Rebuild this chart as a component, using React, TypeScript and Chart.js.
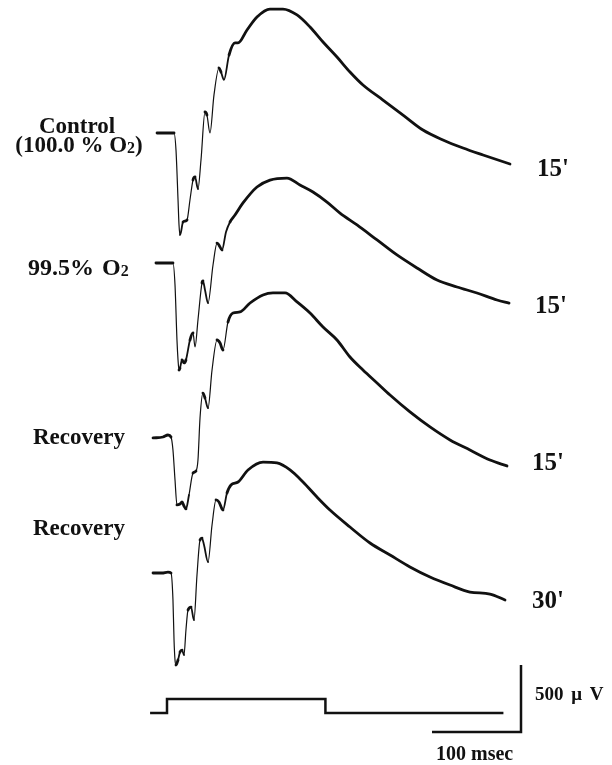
import React, { useEffect, useRef } from "react";
import { Chart, registerables } from "chart.js";

Chart.register(...registerables);

// ---- Data: time in ms from stimulus onset, amplitude in µV relative to each trace's baseline ----
const controlTime = [-11.2, 7.9, 10.1, 12.4, 13.5, 14.6, 15.7, 18.0, 20.2, 22.5, 25.8, 29.2, 31.5, 34.8, 38.2, 42.7, 44.9, 48.3, 52.8, 58.4, 60.7, 64.0, 69.7, 76.4, 79.8, 89.9, 101.1, 115.7, 130.3, 146.1, 160.7, 175.3, 191.0, 205.6, 220.2, 242.7, 265.2, 287.6, 310.1, 332.6, 355.1, 385.4];
const controlAmp = [0, 0, -127, -500, -687, -761, -739, -664, -657, -649, -500, -351, -328, -418, -201, 157, 134, 0, 284, 485, 455, 396, 582, 672, 672, 769, 866, 925, 925, 881, 791, 679, 567, 455, 358, 246, 134, 22, -52, -112, -164, -231];

const hypoxiaTime = [-12.4, 6.7, 9.0, 11.2, 12.4, 13.5, 14.6, 16.9, 19.1, 21.3, 25.8, 29.2, 31.5, 34.8, 39.3, 40.4, 42.7, 46.1, 51.7, 56.2, 58.4, 61.8, 66.3, 70.8, 76.4, 85.4, 101.1, 115.7, 134.8, 149.4, 164.0, 179.8, 194.4, 213.5, 236.0, 258.4, 280.9, 303.4, 325.8, 348.3, 370.8, 384.3];
const hypoxiaAmp = [0, 0, -164, -575, -724, -799, -784, -724, -746, -724, -575, -522, -627, -425, -149, -134, -201, -299, -15, 149, 134, 97, 231, 306, 358, 448, 567, 619, 634, 582, 530, 455, 373, 284, 172, 60, -37, -127, -179, -224, -276, -299];

const recovery15Time = [-15.7, -4.5, 1.1, 4.5, 6.7, 9.0, 11.2, 14.6, 16.9, 19.1, 21.3, 24.7, 29.2, 32.6, 34.8, 37.1, 40.4, 42.7, 46.1, 50.6, 56.2, 59.6, 62.9, 68.5, 74.2, 82.0, 93.3, 107.9, 119.1, 132.6, 146.1, 160.7, 175.3, 191.0, 205.6, 220.2, 236.0, 250.6, 273.0, 295.5, 318.0, 340.4, 362.9, 382.0];
const recovery15Amp = [-7, 0, 15, 0, -97, -321, -507, -500, -485, -515, -537, -433, -269, -254, -172, 142, 328, 291, 216, 500, 724, 701, 649, 858, 925, 933, 1000, 1060, 1075, 1075, 1008, 925, 821, 724, 597, 500, 403, 313, 187, 75, -22, -97, -172, -216];

const recovery30Time = [-15.7, -5.6, 1.1, 4.5, 6.7, 7.9, 9.0, 10.1, 12.4, 14.6, 16.9, 19.1, 21.3, 23.6, 27.0, 30.3, 33.7, 37.1, 39.3, 41.6, 46.1, 50.6, 55.1, 58.4, 62.9, 67.4, 71.9, 79.8, 91.0, 107.9, 123.6, 138.2, 152.8, 168.5, 183.1, 205.6, 228.1, 250.6, 273.0, 295.5, 318.0, 340.4, 362.9, 379.8];
const recovery30Amp = [0, 0, 7, 0, -201, -500, -649, -687, -649, -590, -575, -612, -425, -276, -254, -351, -15, 246, 261, 209, 82, 358, 545, 530, 470, 597, 657, 679, 769, 828, 821, 769, 679, 567, 470, 343, 224, 134, 45, -30, -90, -142, -157, -201];

// stimulus marker (0 = off, 1 = on)
const stimTime = [-19, 0, 0, 178, 178, 378];
const stimLevel = [0, 0, 1, 1, 0, 0];

// calibration bars
const scaleBarMs = 100;
const scaleBarUv = 500;

const leftLabels = ["Control", "(100.0 % O2)", "99.5% O2", "Recovery", "Recovery"];
const rightLabels = ["15'", "15'", "15'", "30'"];
const scaleLabels = ["500 \u03BC V", "100 msec"];

// ---- Layout (pixels) ----
const W = 612;
const H = 765;
const PX_PER_MS = 0.89;
const PX_PER_UV = 0.134;
const ONSET_PX = 167;
const X_MIN = -ONSET_PX / PX_PER_MS;
const X_MAX = (W - ONSET_PX) / PX_PER_MS;
const Y_MIN = -H / PX_PER_UV;
const Y_MAX = 0;
const rowUv = (row: number) => -row / PX_PER_UV;
const traceRows = [133, 263, 437, 573];
const stimRow = 713;
const stimHeightPx = 14;
const barCorner = { x: 521, y: 732 };

const FONT = '"Liberation Serif", "Times New Roman", serif';

function drawLabel(ctx: CanvasRenderingContext2D, text: string, x: number, y: number, size: number, align: "left" | "center", wordGap = 0) {
  const parts: { t: string; sub: boolean }[] = [];
  const idx = text.indexOf("O2");
  if (idx >= 0) {
    parts.push({ t: text.slice(0, idx + 1), sub: false });
    parts.push({ t: "2", sub: true });
    parts.push({ t: text.slice(idx + 2), sub: false });
  } else {
    parts.push({ t: text, sub: false });
  }
  const font = (sub: boolean) => `bold ${sub ? Math.round(size * 0.68) : size}px ${FONT}`;
  (ctx as any).wordSpacing = `${wordGap}px`;
  let total = 0;
  for (const p of parts) {
    ctx.font = font(p.sub);
    total += ctx.measureText(p.t).width;
  }
  let cx = align === "center" ? x - total / 2 : x;
  ctx.textAlign = "left";
  ctx.textBaseline = "alphabetic";
  for (const p of parts) {
    ctx.font = font(p.sub);
    ctx.fillText(p.t, cx, y + (p.sub ? 1 : 0));
    cx += ctx.measureText(p.t).width;
  }
  (ctx as any).wordSpacing = "0px";
}

const labelPlugin = {
  id: "labels",
  afterDraw(chart: any) {
    const ctx: CanvasRenderingContext2D = chart.ctx;
    ctx.save();
    ctx.fillStyle = "#111";
    drawLabel(ctx, leftLabels[0], 77, 133, 23, "center");
    drawLabel(ctx, leftLabels[1], 79, 152, 23, "center");
    drawLabel(ctx, leftLabels[2], 28, 275, 24, "left", 2);
    drawLabel(ctx, leftLabels[3], 33, 444, 23, "left");
    drawLabel(ctx, leftLabels[4], 33, 535, 23, "left");
    drawLabel(ctx, rightLabels[0], 537, 176, 25, "left");
    drawLabel(ctx, rightLabels[1], 535, 313, 25, "left");
    drawLabel(ctx, rightLabels[2], 532, 470, 25, "left");
    drawLabel(ctx, rightLabels[3], 532, 608, 25, "left");
    drawLabel(ctx, scaleLabels[0], 535, 700, 19, "left", 3);
    drawLabel(ctx, scaleLabels[1], 436, 760, 20, "left");
    ctx.restore();
  },
};

function traceData(time: number[], amp: number[], row: number) {
  return time.map((t, i) => ({ x: t, y: amp[i] + rowUv(row) }));
}

export default function App() {
  const ref = useRef<HTMLCanvasElement | null>(null);
  useEffect(() => {
    if (!ref.current) return;
    const widthFor = (c: any) => {
      const dx = Math.abs(c.p1.x - c.p0.x);
      const dy = Math.abs(c.p1.y - c.p0.y);
      const s = dy / Math.max(dx, 0.01);
      return s > 5 ? 1.2 : s > 2.5 ? 1.8 : 2.8;
    };
    const traceStyle = {
      borderColor: "#111",
      borderWidth: 2.8,
      pointRadius: 0,
      cubicInterpolationMode: "monotone" as const,
      borderCapStyle: "round" as const,
      borderJoinStyle: "round" as const,
      clip: false as const,
      segment: { borderWidth: widthFor },
    };
    const cornerT = (barCorner.x - ONSET_PX) / PX_PER_MS;
    const cornerV = rowUv(barCorner.y);
    const chart = new Chart(ref.current, {
      type: "line",
      data: {
        datasets: [
          { ...traceStyle, data: traceData(controlTime, controlAmp, traceRows[0]) },
          { ...traceStyle, data: traceData(hypoxiaTime, hypoxiaAmp, traceRows[1]) },
          { ...traceStyle, data: traceData(recovery15Time, recovery15Amp, traceRows[2]) },
          { ...traceStyle, data: traceData(recovery30Time, recovery30Amp, traceRows[3]) },
          {
            borderColor: "#111",
            borderWidth: 2.5,
            pointRadius: 0,
            tension: 0,
            clip: false,
            data: stimTime.map((t, i) => ({ x: t, y: rowUv(stimRow) + (stimLevel[i] * stimHeightPx) / PX_PER_UV })),
          },
          {
            borderColor: "#111",
            borderWidth: 2.5,
            pointRadius: 0,
            tension: 0,
            clip: false,
            data: [
              { x: cornerT - scaleBarMs, y: cornerV },
              { x: cornerT, y: cornerV },
              { x: cornerT, y: cornerV + scaleBarUv },
            ],
          },
        ],
      },
      options: {
        responsive: false,
        devicePixelRatio: 1,
        animation: false,
        layout: { padding: 0 },
        plugins: { legend: { display: false }, tooltip: { enabled: false } },
        scales: {
          x: { type: "linear", display: false, min: X_MIN, max: X_MAX },
          y: { type: "linear", display: false, min: Y_MIN, max: Y_MAX },
        },
      },
      plugins: [labelPlugin],
    });
    return () => chart.destroy();
  }, []);
  return (
    <div style={{ position: "fixed", left: 0, top: 0, width: W, height: H, background: "#fff" }}>
      <canvas ref={ref} width={W} height={H} style={{ display: "block", width: W, height: H }} />
    </div>
  );
}
